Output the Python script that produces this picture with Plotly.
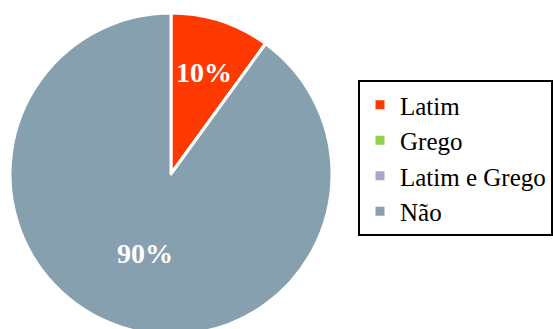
import math
import plotly.graph_objects as go

# Respostas: estudou latim e/ou grego?
labels = ["Latim", "Grego", "Latim e Grego", "Não"]
values = [10, 0, 0, 90]
colors = ["#FF3A00", "#92D050", "#B3A2C7", "#87A0B0"]

SERIF = "Liberation Serif"

W, H = 553, 335
ML, MT = 10, 13
PLOT_W, PLOT_H = W - ML, H - MT
R = PLOT_H / 2  # pie radius in px

fig = go.Figure()
fig.add_trace(go.Pie(
    labels=labels,
    values=values,
    sort=False,
    direction="clockwise",
    rotation=0,
    marker=dict(colors=colors, line=dict(color="white", width=3)),
    textinfo="none",
    textfont=dict(family=SERIF, size=25, color="black"),
    hoverinfo="label+percent",
    domain=dict(x=[0, PLOT_H / PLOT_W], y=[0, 1]),
    showlegend=True,
))

# Percent labels placed along each slice's bisector
total = sum(values)
radial = {0: 0.66, 3: 0.52}
cx = 0.5 * PLOT_H / PLOT_W
cy = 0.5
start = 0.0
for i, v in enumerate(values):
    frac = v / total
    if v > 0:
        mid = (start + frac / 2) * 2 * math.pi
        rr = radial.get(i, 0.6) * R
        x = cx + rr * math.sin(mid) / PLOT_W
        y = cy + rr * math.cos(mid) / PLOT_H
        fig.add_annotation(
            x=x, y=y, xref="paper", yref="paper",
            xanchor="center", yanchor="middle",
            text=f"<b>{round(frac * 100)}%</b>",
            showarrow=False,
            font=dict(family=SERIF, size=28, color="white"),
        )
    start += frac

fig.update_layout(
    width=W, height=H,
    margin=dict(l=ML, r=0, t=MT, b=0, autoexpand=False),
    paper_bgcolor="white",
    plot_bgcolor="white",
    font=dict(family=SERIF, size=25, color="black"),
    legend=dict(
        x=(358 - ML) / PLOT_W, y=(H - 80) / PLOT_H,
        xanchor="left", yanchor="top",
        bordercolor="black", borderwidth=2,
        bgcolor="white",
        font=dict(family=SERIF, size=25, color="black"),
        itemwidth=30,
    ),
)

fig.write_html(
    "out.html",
    post_script="document.documentElement.style.overflow='hidden';document.body.style.overflow='hidden';",
)
